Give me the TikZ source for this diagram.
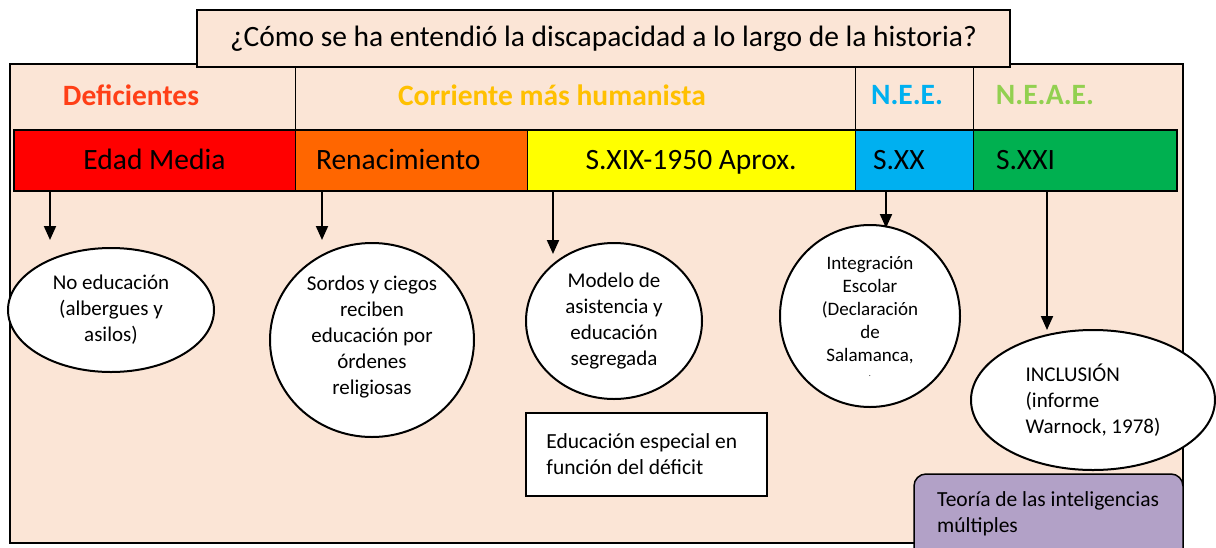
\documentclass[tikz,border=0pt]{standalone}
\usepackage{fontspec}
\setmainfont{Carlito}
\usetikzlibrary{arrows.meta,shapes.geometric,positioning}
\definecolor{fondo}{HTML}{FBE5D6}
\definecolor{rojo}{HTML}{FF0000}
\definecolor{naranja}{HTML}{FF6600}
\definecolor{amarillo}{HTML}{FFFF00}
\definecolor{azul}{HTML}{00B0F0}
\definecolor{verde}{HTML}{00B050}
\definecolor{rojotxt}{HTML}{FF3F17}
\definecolor{oro}{HTML}{FFC000}
\definecolor{verdeclaro}{HTML}{92D050}
\definecolor{lila}{HTML}{B2A1C7}
\tikzset{
  etapa/.style={draw, line width=1pt, minimum height=60pt, inner sep=0pt,
    text height=22pt, text depth=3pt, font=\fontsize{29.5}{34}\selectfont},
  cab/.style={font=\bfseries\fontsize{29.5}{34}\selectfont},
  elip/.style={ellipse, draw, line width=2pt, fill=white, inner sep=0pt,
    align=center, font=\fontsize{21}{26}\selectfont},
  caja/.style={draw, line width=1.5pt, inner sep=0pt},
  texto/.style={align=left, inner sep=0pt, font=\fontsize{21.5}{26}\selectfont},
  flecha/.style={line width=2pt, -{Triangle[length=14pt,width=12pt]}}
}
\begin{document}
\begin{tikzpicture}[x=1pt,y=-1pt]
\useasboundingbox (0,0) rectangle (1216,547);
\clip (0,0) rectangle (1216,547);
% fondo y cabecera
\draw[fill=fondo, line width=1.5pt] (10,64) rectangle (1183,543);
\draw[line width=1pt] (295,64) -- (295,130) (855,64) -- (855,130) (973,64) -- (973,130);
\node[cab, text=rojotxt] (defic) at (131,95) {Deficientes};
\node[cab, text=oro] (human) at (552,95) {Corriente más humanista};
\node[cab, text=azul] (nee) at (907,95) {N.E.E.};
\node[cab, text=verdeclaro] (neae) at (1045,95) {N.E.A.E.};
% titulo
\node[draw, line width=2.5pt, fill=fondo, minimum width=813pt, minimum height=57pt,
  font=\fontsize{29.5}{34}\selectfont] (titulo) at (603.5,38.5)
  {¿Cómo se ha entendió la discapacidad a lo largo de la historia?};
% linea del tiempo
\node[etapa, fill=rojo, minimum width=281pt] (edad) at (154.5,160) {Edad Media};
\node[etapa, fill=naranja, minimum width=232pt, text width=190pt, align=left] (ren) at (411,160) {Renacimiento};
\node[etapa, fill=amarillo, minimum width=328pt] (xix) at (691,160) {S.XIX-1950 Aprox.};
\node[etapa, fill=azul, minimum width=118pt, text width=82pt, align=left] (xx) at (914,160) {S.XX};
\node[etapa, fill=verde, minimum width=203pt, text width=157pt, align=left] (xxi) at (1074.5,160) {S.XXI};
\draw[line width=2pt] (edad.north west) rectangle (xxi.south east);
% elipses
\node[elip, minimum width=206pt, minimum height=124pt] (e1) at (111,310)
  {No educación\\(albergues y\\asilos)};
\node[elip, minimum width=204pt, minimum height=194pt, text depth=10pt] (e2) at (372,340)
  {Sordos y ciegos\\reciben\\educación por\\órdenes\\religiosas};
\node[elip, minimum width=176pt, minimum height=156pt] (e3) at (614,321)
  {Modelo de\\asistencia y\\educación\\segregada};
\node[elip, minimum width=180pt, minimum height=182pt, font=\fontsize{19}{23}\selectfont] (e4) at (870,316)
  {Integración\\Escolar\\(Declaración\\de\\Salamanca,\\[-8pt]{\fontsize{8}{8}\selectfont.}};
\node[elip, minimum width=244pt, minimum height=140pt, align=left] (e5) at (1093,400)
  {INCLUSIÓN\\(informe\\Warnock, 1978)};
% flechas
\coordinate (p1) at (50,240);
\coordinate (p2) at (322,240);
\coordinate (p3) at (553,254);
\coordinate (p4) at (886,228);
\coordinate (p5) at (1047,330);
\draw[flecha] (p1 |- edad.south) -- (p1);
\draw[flecha] (p2 |- ren.south) -- (p2);
\draw[flecha] (p3 |- xix.south) -- (p3);
\draw[flecha] (p4 |- xx.south) -- (p4);
\draw[flecha] (p5 |- xxi.south) -- (p5);
% cajas
\node[caja, fill=white, minimum width=241pt, minimum height=83pt] (defic2) at (646.5,454.5) {};
\node[texto, anchor=west] (defictxt) at ([xshift=21pt]defic2.west)
  {Educación especial en\\función del déficit};
\draw[line width=1.5pt, fill=lila, rounded corners=12pt] (914,474) rectangle (1183,575);
\coordinate (mi) at (937,514);
\node[texto, anchor=west] (multi) at (mi) {Teoría de las inteligencias\\múltiples};
\end{tikzpicture}
\end{document}
